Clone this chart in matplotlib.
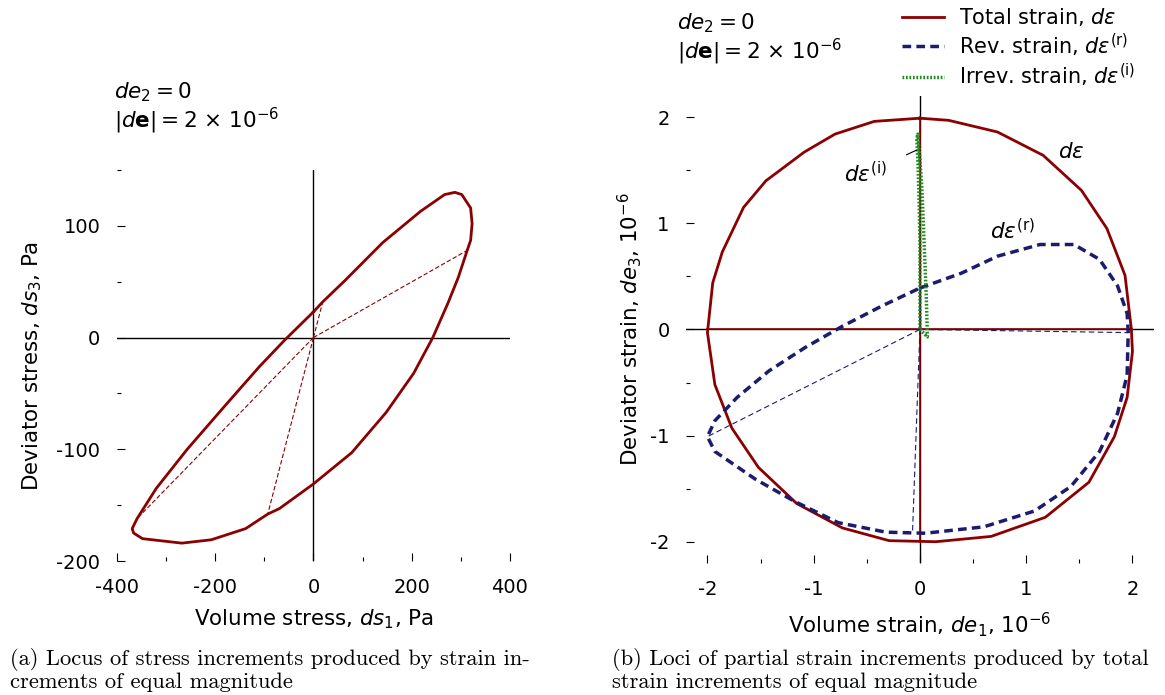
import numpy as np
import matplotlib
matplotlib.use("Agg")
from matplotlib import pyplot as plt
from matplotlib.ticker import MultipleLocator

# (a) locus of stress increments, Pa
ds1 = [0, 19, 64, 141, 218, 267, 288, 302, 320, 323, 320, 313, 295, 274, 243, 204, 148, 78, 0,
       -69, -93, -138, -208, -268, -348, -366, -369, -359, -320, -257, -180, -110, -58, 0]
ds3 = [23, 32, 51, 85, 113, 128, 130, 128, 116, 102, 87, 78, 54, 31, 0, -32, -67, -103, -131,
       -153, -158, -171, -181, -184, -180, -175, -171, -162, -135, -100, -61, -26, -2, 23]
# conjugate points joined to the origin
ds1_rad = [19, 313, -93, -359]
ds3_rad = [32, 78, -158, -162]

# (b) strain increments, 1e-6
de1_tot = [0, 0.27, 0.73, 1.16, 1.52, 1.76, 1.93, 1.99, 2.0, 1.95, 1.83, 1.59, 1.18, 0.67, 0.15,
           -0.29, -0.73, -1.16, -1.52, -1.77, -1.93, -2.0, -1.95, -1.86, -1.66, -1.45, -1.09, -0.80, -0.43, 0]
de3_tot = [1.99, 1.97, 1.86, 1.64, 1.31, 0.95, 0.51, 0, -0.21, -0.64, -1.01, -1.44, -1.77, -1.95, -2.0,
           -1.99, -1.87, -1.64, -1.30, -0.93, -0.52, -0.03, 0.44, 0.73, 1.15, 1.40, 1.67, 1.84, 1.96, 1.99]
de1_rev = [0, 0.39, 0.73, 1.13, 1.45, 1.69, 1.86, 1.95, 1.96, 1.95, 1.86, 1.69, 1.42, 1.08, 0.60, 0.05,
           -0.32, -0.77, -1.18, -1.55, -1.93, -2.0, -1.93, -1.72, -1.42, -1.08, -0.73, -0.36, 0]
de3_rev = [0.39, 0.53, 0.69, 0.80, 0.80, 0.66, 0.41, 0.15, -0.03, -0.43, -0.79, -1.15, -1.48, -1.71,
           -1.86, -1.92, -1.91, -1.82, -1.62, -1.41, -1.15, -1.01, -0.86, -0.64, -0.39, -0.17, 0.03, 0.22, 0.39]
de1_irr = [0, 0.07, 0.06, 0.04, 0.02, 0.0, -0.02, -0.03, -0.02, -0.01, 0.0, 0.0, 0]
de3_irr = [0, -0.07, 0.3, 0.8, 1.3, 1.6, 1.84, 1.8, 1.6, 1.3, 0.8, 0.3, 0]
de1_tot_rad = [2.0, 0, -2.0, 0]
de3_tot_rad = [0, 2.0, 0, -2.0]
de1_rev_rad = [1.96, 0, -2.0, -0.07]
de3_rev_rad = [-0.03, 0.39, -1.01, -1.91]

red = "#8b0000"
blue = "#1c1c6e"
green = "#1e8c1e"

plt.rcParams["font.family"] = "DejaVu Sans"
plt.rcParams["mathtext.fontset"] = "dejavusans"
plt.rcParams["font.size"] = 14

fig = plt.figure(figsize=(11.65, 6.95), dpi=100)
ax1 = fig.add_axes([0.1004, 0.1928, 0.3373, 0.5626])
ax2 = fig.add_axes([0.589, 0.19, 0.4013, 0.672])


def style(ax, major, minor):
    for s in ax.spines.values():
        s.set_visible(False)
    ax.xaxis.set_major_locator(MultipleLocator(major[0]))
    ax.xaxis.set_minor_locator(MultipleLocator(minor[0]))
    ax.yaxis.set_major_locator(MultipleLocator(major[1]))
    ax.yaxis.set_minor_locator(MultipleLocator(minor[1]))
    ax.tick_params(which="major", direction="in", length=6, width=0.8, pad=12, labelsize=14)
    ax.tick_params(which="minor", direction="in", length=3, width=0.8)


lab = 15.4
note = 15.5

# panel a
ax1.set_xlim(-400, 400)
ax1.set_ylim(-200, 150)
style(ax1, (200, 100), (100, 50))
ax1.plot([-400, 400], [0, 0], color="black", lw=1)
ax1.plot([0, 0], [-200, 150], color="black", lw=1)
for x, y in zip(ds1_rad, ds3_rad):
    ax1.plot([0, x], [0, y], color=red, lw=0.8, ls=(0, (4, 2)))
ax1.plot(ds1, ds3, color=red, lw=2)
ax1.set_xticks([-400, -200, 0, 200, 400])
ax1.set_xticklabels(["-400", "-200", "0", "200", "400"])
ax1.set_yticks([-200, -100, 0, 100])
ax1.set_yticklabels(["-200", "-100", "0", "100"])
ax1.set_xlabel("Volume stress, $ds_1$, Pa", fontsize=lab, labelpad=8)
ax1.set_ylabel("Deviator stress, $ds_3$, Pa", fontsize=lab, labelpad=9)
fig.text(0.098, 0.868, "$de_2 = 0$", fontsize=note, va="center")
fig.text(0.098, 0.826, r"$|d\mathbf{e}| = 2$ × $10^{-6}$", fontsize=note, va="center")

# panel b
ax2.set_xlim(-2.2, 2.2)
ax2.set_ylim(-2.2, 2.2)
style(ax2, (1, 1), (0.5, 0.5))
ax2.plot([-2.2, 2.2], [0, 0], color="black", lw=1)
ax2.plot([0, 0], [-2.2, 2.2], color="black", lw=1)
for x, y in zip(de1_tot_rad, de3_tot_rad):
    ax2.plot([0, x], [0, y], color=red, lw=1.2)
for x, y in zip(de1_rev_rad, de3_rev_rad):
    ax2.plot([0, x], [0, y], color=blue, lw=0.8, ls=(0, (5, 3)))
ax2.plot(de1_tot, de3_tot, color=red, lw=2, label=r"Total strain, $d\varepsilon$")
ax2.plot(de1_rev, de3_rev, color=blue, lw=2.5, ls=(0, (2.5, 1.5)),
         label=r"Rev. strain, $d\varepsilon^{(\mathrm{r})}$")
ax2.plot(de1_irr, de3_irr, color=green, lw=2.5, ls=(0, (0.5, 0.5)),
         label=r"Irrev. strain, $d\varepsilon^{(\mathrm{i})}$")
ax2.set_xticks([-2, -1, 0, 1, 2])
ax2.set_xticklabels(["-2", "-1", "0", "1", "2"])
ax2.set_yticks([-2, -1, 0, 1, 2])
ax2.set_yticklabels(["-2", "-1", "0", "1", "2"])
ax2.set_xlabel("Volume strain, $de_1$, $10^{-6}$", fontsize=lab, labelpad=8)
ax2.set_ylabel("Deviator strain, $de_3$, $10^{-6}$", fontsize=lab, labelpad=4)
ax2.text(1.42, 1.67, r"$d\varepsilon$", fontsize=note, ha="center", va="center")
ax2.text(0.87, 0.93, r"$d\varepsilon^{(\mathrm{r})}$", fontsize=note, ha="center", va="center")
ax2.annotate(r"$d\varepsilon^{(\mathrm{i})}$", xy=(-0.03, 1.69), xytext=(-0.51, 1.47),
             fontsize=note, ha="center", va="center",
             arrowprops=dict(arrowstyle="-", color="black", lw=0.8, shrinkA=13, shrinkB=0))
fig.text(0.581, 0.967, "$de_2 = 0$", fontsize=note, va="center")
fig.text(0.581, 0.925, r"$|d\mathbf{e}| = 2$ × $10^{-6}$", fontsize=note, va="center")
fig.legend(loc="upper left", bbox_to_anchor=(0.767, 1.003), frameon=False, fontsize=15,
           handlelength=2.0, handletextpad=0.75, labelspacing=0.15, borderaxespad=0)

# captions
fig.text(0.009, 0.036, "(a) Locus of stress increments produced by strain in-\ncrements of equal magnitude",
         family="cmr10", fontsize=16.2, va="center", linespacing=1.05)
fig.text(0.525, 0.036, "(b) Loci of partial strain increments produced by total\nstrain increments of equal magnitude",
         family="cmr10", fontsize=16.2, va="center", linespacing=1.05)

fig.savefig("out.png", dpi=100)
